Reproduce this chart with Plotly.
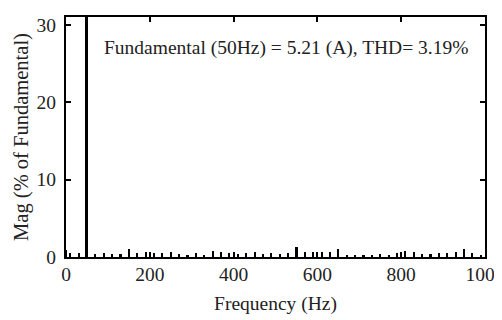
import plotly.graph_objects as go

# Harmonic spectrum (% of fundamental)
freqs = [0, 10, 30, 50, 70, 90, 110, 130, 150, 170, 190, 210, 230, 250, 270, 290,
         310, 330, 350, 370, 390, 410, 430, 450, 470, 490, 510, 530, 550, 570,
         590, 610, 630, 650, 670, 690, 710, 730, 750, 770, 790, 810, 830, 850,
         870, 890, 910, 930, 950, 970, 990]
mags = [0.9, 0.5, 0.5, 100.0, 0.4, 0.5, 0.4, 0.4, 1.0, 0.5, 0.6, 0.5, 0.5, 0.6, 0.4, 0.2,
        0.5, 0.3, 0.8, 0.6, 0.5, 0.4, 0.5, 0.6, 0.4, 0.5, 0.4, 0.5, 1.3, 0.6,
        0.6, 0.6, 0.7, 1.0, 0.3, 0.3, 0.3, 0.3, 0.4, 0.3, 0.5, 0.8, 0.6, 0.4,
        0.4, 0.5, 0.5, 0.6, 1.0, 0.5, 0.3]
widths = [7 if f == 50 else 5 for f in freqs]

x_ticks = [0, 200, 400, 600, 800, 1000]
y_ticks = [0, 10, 20, 30]
annotation_text = "Fundamental (50Hz) = 5.21 (A), THD= 3.19%"

serif = "Liberation Serif, Times New Roman, serif"
font = dict(family=serif, size=19.5, color="#222")

fig = go.Figure()
fig.add_trace(go.Bar(x=freqs, y=mags, width=widths, marker=dict(color="black", line=dict(width=0))))

axis_common = dict(showline=True, linecolor="black", linewidth=2, mirror="ticks",
                   ticks="inside", ticklen=5, tickwidth=2, tickcolor="black",
                   showgrid=False, zeroline=False, tickfont=font, automargin=False,
                   ticklabeloverflow="allow")
fig.update_xaxes(range=[0, 1000], tickvals=x_ticks, ticktext=[str(v) for v in x_ticks],
                 ticklabelstandoff=-1,
                 title=dict(text="Frequency (Hz)", font=dict(family=serif, size=19.5, color="#222"), standoff=12),
                 **axis_common)
fig.update_yaxes(range=[0, 31], tickvals=y_ticks, ticktext=[str(v) for v in y_ticks],
                 ticklabelstandoff=4,
                 title=dict(text="Mag (% of Fundamental)", font=dict(family=serif, size=20.5, color="#222"), standoff=2),
                 **axis_common)

fig.add_annotation(text=annotation_text, xref="paper", yref="paper", x=0.085, y=0.87,
                   xanchor="left", yanchor="middle", showarrow=False, font=font)

# page body has an 8px default margin, so the figure is sized to fit the 502x320 window
fig.update_layout(width=494, height=312, margin=dict(l=58, r=17, t=9, b=63),
                  plot_bgcolor="white", paper_bgcolor="white", showlegend=False, bargap=0)

fig.write_html("out.html")
